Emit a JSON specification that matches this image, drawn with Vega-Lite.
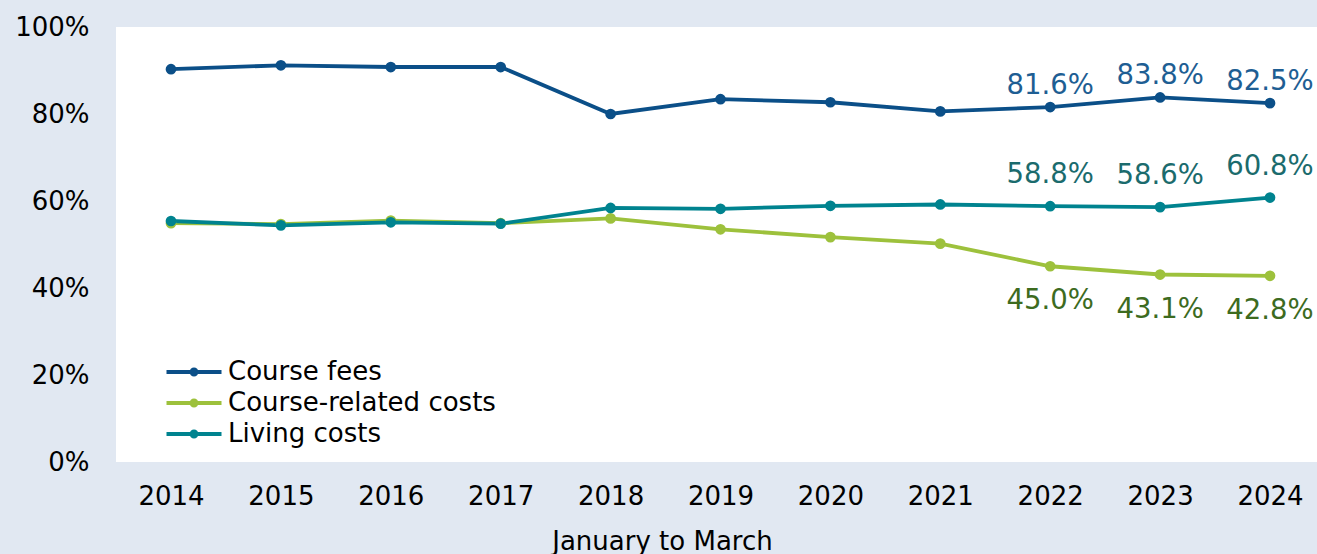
{
  "$schema": "https://vega.github.io/schema/vega-lite/v6.json",
  "width": 1201,
  "height": 435,
  "autosize": {"type": "none"},
  "padding": {"left": 116, "top": 27, "right": 0, "bottom": 92},
  "background": "#E1E8F2",
  "config": {"view": {"fill": "white", "stroke": null}, "font": "DejaVu Sans"},
  "data": {"values": [
    {"year": 2014, "series": "Course fees", "value": 0.903},
    {"year": 2015, "series": "Course fees", "value": 0.912},
    {"year": 2016, "series": "Course fees", "value": 0.908},
    {"year": 2017, "series": "Course fees", "value": 0.908},
    {"year": 2018, "series": "Course fees", "value": 0.800},
    {"year": 2019, "series": "Course fees", "value": 0.834},
    {"year": 2020, "series": "Course fees", "value": 0.827},
    {"year": 2021, "series": "Course fees", "value": 0.806},
    {"year": 2022, "series": "Course fees", "value": 0.816},
    {"year": 2023, "series": "Course fees", "value": 0.838},
    {"year": 2024, "series": "Course fees", "value": 0.825},
    {"year": 2014, "series": "Course-related costs", "value": 0.549},
    {"year": 2015, "series": "Course-related costs", "value": 0.547},
    {"year": 2016, "series": "Course-related costs", "value": 0.555},
    {"year": 2017, "series": "Course-related costs", "value": 0.549},
    {"year": 2018, "series": "Course-related costs", "value": 0.560},
    {"year": 2019, "series": "Course-related costs", "value": 0.535},
    {"year": 2020, "series": "Course-related costs", "value": 0.517},
    {"year": 2021, "series": "Course-related costs", "value": 0.502},
    {"year": 2022, "series": "Course-related costs", "value": 0.450},
    {"year": 2023, "series": "Course-related costs", "value": 0.431},
    {"year": 2024, "series": "Course-related costs", "value": 0.428},
    {"year": 2014, "series": "Living costs", "value": 0.554},
    {"year": 2015, "series": "Living costs", "value": 0.544},
    {"year": 2016, "series": "Living costs", "value": 0.551},
    {"year": 2017, "series": "Living costs", "value": 0.548},
    {"year": 2018, "series": "Living costs", "value": 0.584},
    {"year": 2019, "series": "Living costs", "value": 0.582},
    {"year": 2020, "series": "Living costs", "value": 0.589},
    {"year": 2021, "series": "Living costs", "value": 0.592},
    {"year": 2022, "series": "Living costs", "value": 0.588},
    {"year": 2023, "series": "Living costs", "value": 0.586},
    {"year": 2024, "series": "Living costs", "value": 0.608}
  ]},
  "encoding": {
    "x": {
      "field": "year", "type": "ordinal",
      "scale": {"type": "point", "range": [55, 1154], "padding": 0},
      "axis": {
        "title": "January to March", "labelAngle": 0, "domain": false, "ticks": false, "grid": false,
        "labelFontSize": 26, "labelColor": "black", "labelPadding": 21,
        "titleFontSize": 26, "titleFontWeight": "normal", "titleColor": "black",
        "titleX": 546, "titleY": 87, "titleBaseline": "alphabetic", "titleAlign": "center", "titleAnchor": null
      }
    },
    "y": {
      "field": "value", "type": "quantitative",
      "scale": {"domain": [0, 1]},
      "axis": {
        "values": [0, 0.2, 0.4, 0.6, 0.8, 1], "format": ".0%", "title": null,
        "domain": false, "ticks": false, "grid": false,
        "labelFontSize": 26, "labelColor": "black", "labelPadding": 27
      }
    }
  },
  "layer": [
    {
      "mark": {"type": "line", "strokeWidth": 3.8, "point": {"size": 115, "filled": true}},
      "encoding": {
        "color": {
          "field": "series", "type": "nominal",
          "scale": {"domain": ["Course fees", "Course-related costs", "Living costs"], "range": ["#0B4F88", "#9DC13C", "#00838F"]},
          "legend": {
            "orient": "none", "legendX": 65, "legendY": 332, "title": null, "padding": 0,
            "labelFontSize": 26, "labelColor": "black", "labelOffset": 21, "rowPadding": 5, "labelLimit": 0,
            "symbolType": "M-2.5,0H2.5M0.22,0A0.22,0.22 0 1,1 -0.22,0A0.22,0.22 0 1,1 0.22,0Z",
            "symbolSize": 484, "symbolStrokeWidth": 4
          }
        }
      }
    },
    {
      "transform": [{"filter": "datum.series === 'Course fees' && datum.year >= 2022"}],
      "mark": {"type": "text", "dy": -13, "baseline": "alphabetic", "fontSize": 27.5, "color": "#1E5E93"},
      "encoding": {"text": {"field": "value", "type": "quantitative", "format": ".1%"}}
    },
    {
      "transform": [{"filter": "datum.series === 'Living costs' && datum.year >= 2022"}],
      "mark": {"type": "text", "dy": -23, "baseline": "alphabetic", "fontSize": 27.5, "color": "#1B6B6D"},
      "encoding": {"text": {"field": "value", "type": "quantitative", "format": ".1%"}}
    },
    {
      "transform": [{"filter": "datum.series === 'Course-related costs' && datum.year >= 2022"}],
      "mark": {"type": "text", "dy": 43, "baseline": "alphabetic", "fontSize": 27.5, "color": "#3D6B1F"},
      "encoding": {"text": {"field": "value", "type": "quantitative", "format": ".1%"}}
    }
  ]
}
